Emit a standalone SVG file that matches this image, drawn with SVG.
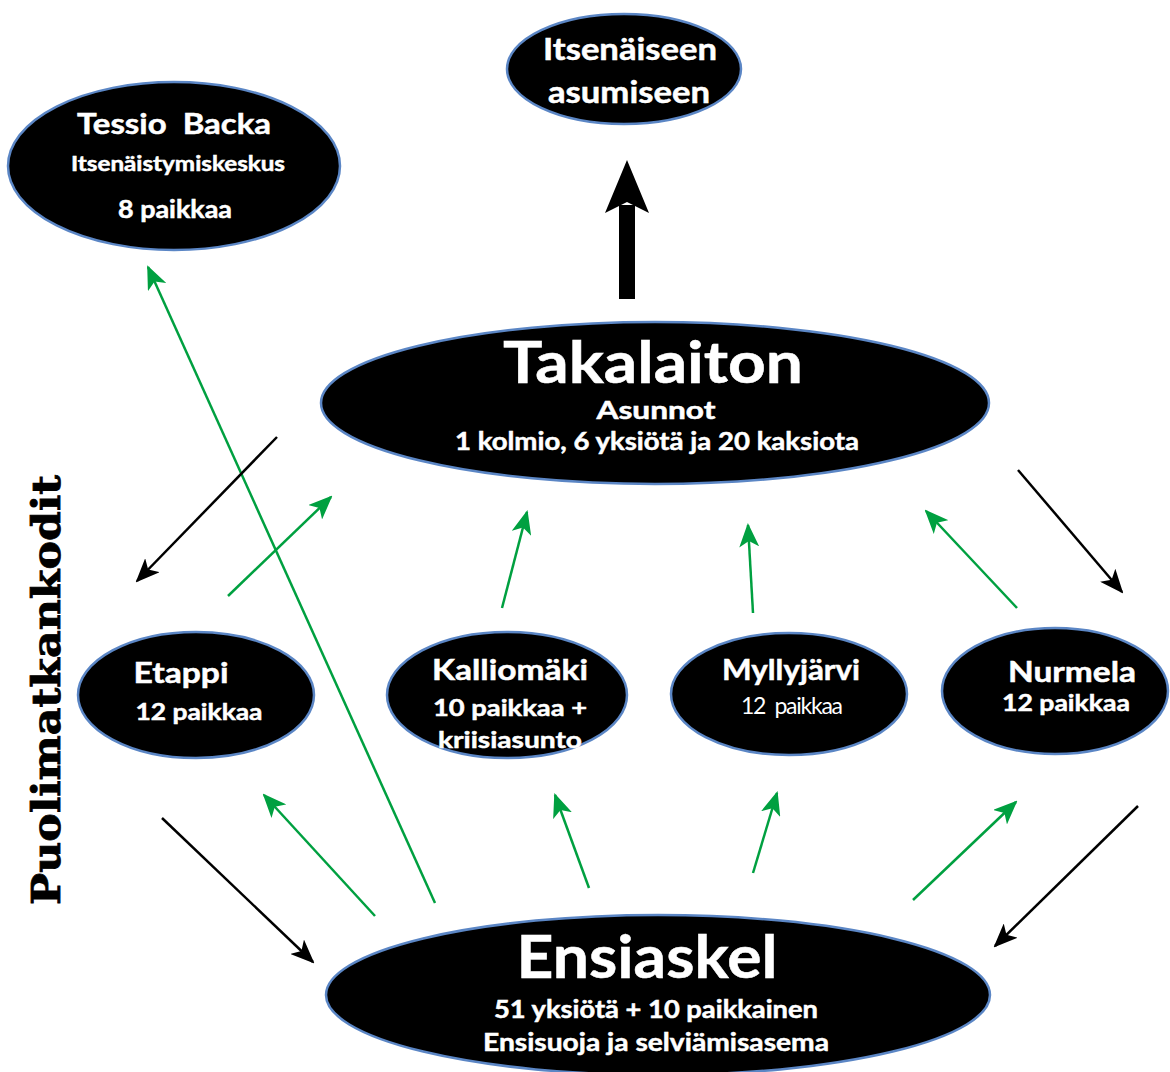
<svg xmlns="http://www.w3.org/2000/svg" width="1170" height="1072" viewBox="0 0 1170 1072">
<style>
.node{fill:#000;stroke:#5B86C5;stroke-width:2.5}
.t{font-family:Lato,"Liberation Sans",sans-serif;font-weight:bold;fill:#fff;stroke:#fff;stroke-width:0.5;text-anchor:middle}
.r{font-weight:normal;stroke:none}
.blk{stroke:#000;stroke-width:2.5;fill:none}
.grn{stroke:#00A040;stroke-width:2.5;fill:none}
</style>
<defs>
<marker id="ab" viewBox="0 0 24 20" refX="22" refY="10" markerWidth="24" markerHeight="20" orient="auto" markerUnits="userSpaceOnUse">
<path d="M0,0 L24,10 L0,20 L6,10 z" fill="#000"/>
</marker>
<marker id="ag" viewBox="0 0 24 20" refX="22" refY="10" markerWidth="24" markerHeight="20" orient="auto" markerUnits="userSpaceOnUse">
<path d="M0,0 L24,10 L0,20 L6,10 z" fill="#00A040"/>
</marker>
</defs>
<rect width="1170" height="1072" fill="#fff"/>

<g id="connectors">
<path class="grn" d="M435,903 L148,267" marker-end="url(#ag)"/>
<path class="blk" d="M277,437 L137,581" marker-end="url(#ab)"/>
<path class="blk" d="M1018,470 L1122,592" marker-end="url(#ab)"/>
<path class="blk" d="M162,818 L313,962" marker-end="url(#ab)"/>
<path class="blk" d="M1138,806 L995,946" marker-end="url(#ab)"/>
<path class="grn" d="M228,596 L331,497" marker-end="url(#ag)"/>
<path class="grn" d="M502,608 L527,512" marker-end="url(#ag)"/>
<path class="grn" d="M753,613 L748,525" marker-end="url(#ag)"/>
<path class="grn" d="M1017,608 L926,511" marker-end="url(#ag)"/>
<path class="grn" d="M375,916 L264,795" marker-end="url(#ag)"/>
<path class="grn" d="M589,888 L555,795" marker-end="url(#ag)"/>
<path class="grn" d="M753,873 L777,793" marker-end="url(#ag)"/>
<path class="grn" d="M913,900 L1016,802" marker-end="url(#ag)"/>
<g id="big-arrow">
<rect x="619" y="205" width="16" height="94" fill="#000"/>
<path d="M627,160 L649,213 L627,202 L605,213 z" fill="#000"/>
</g>
</g>

<g id="itsenaiseen">
<ellipse class="node" cx="624" cy="69" rx="117" ry="55"/>
<text class="t" x="630" y="60" font-size="31" textLength="174" lengthAdjust="spacingAndGlyphs">Itsenäiseen</text>
<text class="t" x="629" y="103" font-size="31" textLength="162" lengthAdjust="spacingAndGlyphs">asumiseen</text>
</g>

<g id="tessio">
<ellipse class="node" cx="174" cy="166" rx="166" ry="84"/>
<text class="t" x="174" y="134" font-size="29" textLength="194" lengthAdjust="spacingAndGlyphs" xml:space="preserve">Tessio  Backa</text>
<text class="t" x="178" y="171" font-size="21" textLength="214" lengthAdjust="spacingAndGlyphs">Itsenäistymiskeskus</text>
<text class="t" x="175" y="218" font-size="24" textLength="114" lengthAdjust="spacingAndGlyphs">8 paikkaa</text>
</g>

<g id="takalaiton">
<ellipse class="node" cx="655" cy="403" rx="334" ry="81"/>
<text class="t" x="653" y="383" font-size="57" stroke-width="1" textLength="300" lengthAdjust="spacingAndGlyphs">Takalaiton</text>
<text class="t" x="656" y="419" font-size="24" textLength="119" lengthAdjust="spacingAndGlyphs">Asunnot</text>
<text class="t" x="657" y="450" font-size="24" textLength="404" lengthAdjust="spacingAndGlyphs">1 kolmio, 6 yksiötä ja 20 kaksiota</text>
</g>

<g id="etappi">
<ellipse class="node" cx="196" cy="695" rx="118" ry="63"/>
<text class="t" x="181" y="683" font-size="29" textLength="95" lengthAdjust="spacingAndGlyphs">Etappi</text>
<text class="t" x="199" y="720" font-size="23" textLength="127" lengthAdjust="spacingAndGlyphs">12 paikkaa</text>
</g>

<g id="kalliomaki">
<ellipse class="node" cx="507" cy="695" rx="120" ry="63"/>
<text class="t" x="510" y="680" font-size="29" textLength="156" lengthAdjust="spacingAndGlyphs">Kalliomäki</text>
<text class="t" x="510" y="716" font-size="23" textLength="154" lengthAdjust="spacingAndGlyphs">10 paikkaa +</text>
<text class="t" x="510" y="748" font-size="23" textLength="144" lengthAdjust="spacingAndGlyphs">kriisiasunto</text>
</g>

<g id="myllyjarvi">
<ellipse class="node" cx="789" cy="694" rx="118" ry="61"/>
<text class="t" x="791" y="680" font-size="29" textLength="138" lengthAdjust="spacingAndGlyphs">Myllyjärvi</text>
<text class="t r" x="792" y="714" font-size="23" textLength="102" lengthAdjust="spacing" xml:space="preserve">12  paikkaa</text>
</g>

<g id="nurmela">
<ellipse class="node" cx="1055" cy="691" rx="113" ry="63"/>
<text class="t" x="1072" y="682" font-size="29" textLength="128" lengthAdjust="spacingAndGlyphs">Nurmela</text>
<text class="t" x="1066" y="711" font-size="23" textLength="128" lengthAdjust="spacingAndGlyphs">12 paikkaa</text>
</g>

<g id="ensiaskel">
<ellipse class="node" cx="658" cy="995" rx="332" ry="80"/>
<text class="t" x="647" y="978" font-size="60" stroke-width="0.8" textLength="261" lengthAdjust="spacingAndGlyphs">Ensiaskel</text>
<text class="t" x="656" y="1018" font-size="24" textLength="324" lengthAdjust="spacingAndGlyphs">51 yksiötä + 10 paikkainen</text>
<text class="t" x="656" y="1051" font-size="24" textLength="346" lengthAdjust="spacingAndGlyphs">Ensisuoja ja selviämisasema</text>
</g>

<g id="puolimatkankodit">
<text x="0" y="0" transform="translate(60,690) rotate(-90)" font-family="'DejaVu Serif','Liberation Serif',serif" font-weight="bold" font-size="40" text-anchor="middle" textLength="430" lengthAdjust="spacingAndGlyphs" fill="#000" stroke="#000" stroke-width="0.8">Puolimatkankodit</text>
</g>
</svg>
